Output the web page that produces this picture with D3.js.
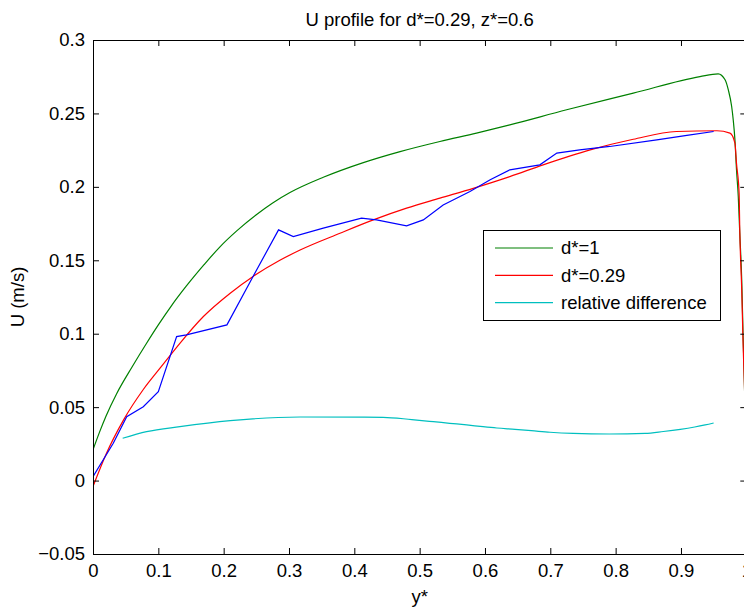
<!DOCTYPE html>
<html><head><meta charset="utf-8">
<script src="https://cdn.jsdelivr.net/npm/d3@7"></script>
<style>
html,body{margin:0;padding:0;overflow:hidden;background:#fff;}
text{font-family:"Liberation Sans",Arial,sans-serif;fill:#000;}
</style></head>
<body>
<svg id="chart" width="744" height="607"></svg>
<script>
const title = "U profile for d*=0.29, z*=0.6";
const xLabel = "y*";
const yLabel = "U (m/s)";
const xTicks = [0,0.1,0.2,0.3,0.4,0.5,0.6,0.7,0.8,0.9,1];
const yTicks = [-0.05,0,0.05,0.1,0.15,0.2,0.25,0.3];
const seriesNames = ["d*=1","d*=0.29","relative difference"];
const seriesColors = ["#008000","#ff0000","#00bfbf"];
const measuredColor = "#0000ff";

// d*=1 (green)
const greenX = [0,0.01,0.02,0.036,0.06,0.082,0.1,0.12,0.143,0.17,0.194,0.22,0.25,0.275,0.3015,0.3525,0.4138,0.47,0.531,0.587,0.638,0.725,0.827,0.929,0.957,0.9675,0.9725,0.9776,0.980,0.9826,0.985,0.9877,0.99,0.993,0.995,0.998,1.0];
const greenY = [0.021,0.033,0.044,0.059,0.0775,0.0935,0.106,0.119,0.1325,0.147,0.159,0.170,0.181,0.189,0.1961,0.2065,0.2165,0.224,0.2309,0.2366,0.2422,0.2525,0.2638,0.2751,0.277,0.2729,0.266,0.2547,0.2456,0.232,0.2116,0.1934,0.1685,0.1366,0.1003,0.05,0.0];
// d*=0.29 (red)
const redX = [0,0.02,0.0464,0.077,0.1026,0.133,0.169,0.21,0.245,0.286,0.317,0.378,0.429,0.48,0.531,0.582,0.638,0.689,0.761,0.827,0.893,0.955,0.975,0.9826,0.985,0.989,0.990,0.993,0.995,0.998,1.0];
const redY = [-0.004,0.018,0.041,0.062,0.0765,0.0935,0.1117,0.1276,0.139,0.150,0.157,0.1684,0.1775,0.1855,0.1923,0.199,0.207,0.215,0.2252,0.2324,0.2377,0.2382,0.2366,0.2298,0.216,0.1957,0.1707,0.13,0.095,0.05,0.0];
// measured profile (blue)
const blueX = [0,0.031,0.0516,0.077,0.1,0.128,0.143,0.205,0.245,0.284,0.3066,0.3525,0.411,0.434,0.48,0.5056,0.536,0.577,0.608,0.638,0.684,0.71,0.745,0.791,0.863,0.909,0.95];
const blueY = [0.0027,0.0254,0.0435,0.0503,0.0606,0.098,0.0992,0.106,0.139,0.1707,0.1661,0.1719,0.1787,0.1775,0.1734,0.1775,0.1877,0.1968,0.2048,0.2116,0.215,0.223,0.2252,0.2275,0.232,0.235,0.2377];
// relative difference (cyan)
const cyanX = [0.0454,0.082,0.133,0.21,0.317,0.444,0.488,0.521,0.546,0.572,0.597,0.618,0.646,0.671,0.6995,0.735,0.79,0.845,0.873,0.899,0.921,0.937,0.95];
const cyanY = [0.0288,0.0333,0.0367,0.0408,0.0433,0.0431,0.0415,0.0401,0.039,0.0379,0.0367,0.0358,0.0349,0.034,0.0329,0.0321,0.0317,0.0321,0.0334,0.0349,0.0365,0.0379,0.0392];

const svg = d3.select("#chart");
const L = 93, R = 746.3, T = 40, B = 554;
const x = d3.scaleLinear().domain([0,1]).range([L,R]);
const y = d3.scaleLinear().domain([-0.05,0.3]).range([B,T]);
const FS = 18.5;

svg.append("rect").attr("x",L).attr("y",T).attr("width",R-L).attr("height",B-T).attr("fill","#fff");
svg.append("clipPath").attr("id","clip").append("rect")
  .attr("x",L).attr("y",T).attr("width",R-L).attr("height",B-T);

const smooth = d3.line().x(d=>x(d[0])).y(d=>y(d[1])).curve(d3.curveMonotoneX);
const straight = d3.line().x(d=>x(d[0])).y(d=>y(d[1]));
const g = svg.append("g").attr("clip-path","url(#clip)");
function draw(xs, ys, color, gen){
  g.append("path").datum(d3.zip(xs,ys)).attr("d",gen)
   .attr("fill","none").attr("stroke",color).attr("stroke-width",1.2);
}
draw(greenX, greenY, seriesColors[0], smooth);
draw(redX, redY, seriesColors[1], smooth);
draw(blueX, blueY, measuredColor, straight);
draw(cyanX, cyanY, seriesColors[2], smooth);

const fmt = d => d3.format("")(+d.toFixed(2));
const xb = svg.append("g").attr("transform",`translate(0,${B})`)
  .call(d3.axisBottom(x).tickValues(xTicks).tickSize(-6).tickPadding(12).tickFormat(fmt));
const xt = svg.append("g").attr("transform",`translate(0,${T})`)
  .call(d3.axisTop(x).tickValues(xTicks).tickSize(-6).tickFormat(""));
const yl = svg.append("g").attr("transform",`translate(${L},0)`)
  .call(d3.axisLeft(y).tickValues(yTicks).tickSize(-6).tickPadding(8).tickFormat(fmt));
const yr = svg.append("g").attr("transform",`translate(${R},0)`)
  .call(d3.axisRight(y).tickValues(yTicks).tickSize(-6).tickFormat(""));
[xb,xt,yl,yr].forEach(a=>{
  a.selectAll(".domain").attr("stroke","#000").attr("stroke-width",1);
  a.selectAll(".tick line").attr("stroke","#000");
  a.selectAll("text").attr("font-size",FS).attr("font-family","Liberation Sans, Arial, sans-serif").attr("fill","#000");
});
xb.selectAll(".tick text").attr("dy","0.71em").attr("y",10);
yl.selectAll(".tick text").attr("x",-8);

svg.append("text").attr("x",(L+R)/2).attr("y",26).attr("text-anchor","middle").attr("font-size",FS).text(title);
svg.append("text").attr("x",(L+R)/2).attr("y",603).attr("text-anchor","middle").attr("font-size",FS).text(xLabel);
svg.append("text").attr("transform",`translate(24,${(T+B)/2}) rotate(-90)`).attr("text-anchor","middle").attr("font-size",FS).text(yLabel);

const lg = svg.append("g");
lg.append("rect").attr("x",483.5).attr("y",230.5).attr("width",237).attr("height",90)
  .attr("fill","#fff").attr("stroke","#000").attr("stroke-width",1);
seriesNames.forEach((n,i)=>{
  const yy = 248 + i*27.3;
  lg.append("line").attr("x1",495).attr("x2",553).attr("y1",yy).attr("y2",yy)
    .attr("stroke",seriesColors[i]).attr("stroke-width",1.2);
  lg.append("text").attr("x",561).attr("y",yy).attr("dy","0.35em").attr("font-size",FS).text(n);
});
</script>
</body></html>
